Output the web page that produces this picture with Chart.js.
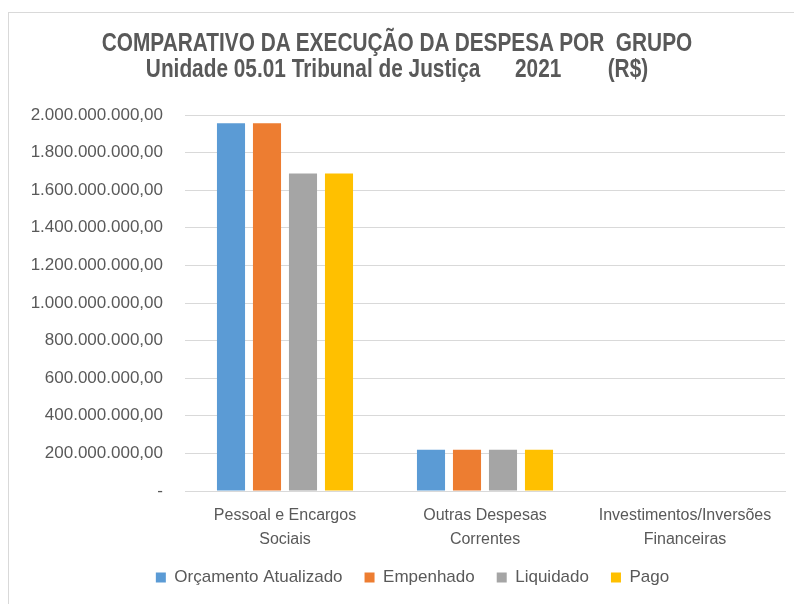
<!DOCTYPE html>
<html>
<head>
<meta charset="utf-8">
<script src="https://cdn.jsdelivr.net/npm/chart.js@4"></script>
<style>
  body { margin: 0; background: #fff; }
  #moldura { position: absolute; left: 8px; top: 12px; width: 800px; height: 600px; border: 1px solid #d9d9d9; }
  #wrap { position: absolute; left: 0; top: 0; width: 794px; height: 604px; }
  .tit { position: absolute; left: 0; width: 794px; text-align: center; white-space: pre;
         font-family: 'Liberation Sans', Arial, sans-serif; font-weight: bold; font-size: 25px;
         color: #595959; line-height: 26px; transform: scaleX(0.833); transform-origin: 397px 50%; }
</style>
</head>
<body>
<div id="moldura"></div>
<div id="wrap"><canvas id="grafico" width="794" height="604"></canvas></div>
<div class="tit" id="tit1" style="top:29px"></div>
<div class="tit" id="tit2" style="top:55px"></div>
<script>
// categorias do eixo x
const categorias = [['Pessoal e Encargos', 'Sociais'], ['Outras Despesas', 'Correntes'], ['Investimentos/Inversões', 'Financeiras']];
// valores (R$)
const orcamento = [1956000000, 220000000, 0];
const empenhado = [1956000000, 220000000, 0];
const liquidado = [1689000000, 220000000, 0];
const pago = [1689000000, 220000000, 0];
const titulo = ['COMPARATIVO DA EXECUÇÃO DA DESPESA POR  GRUPO', 'Unidade 05.01 Tribunal de Justiça      2021        (R$)'];

document.getElementById('tit1').textContent = titulo[0];
document.getElementById('tit2').textContent = titulo[1];

const cinza = '#595959';
Chart.defaults.font.family = "'Liberation Sans', Arial, sans-serif";
Chart.defaults.color = cinza;

function fmt(v) {
  if (v === 0) return '-';
  return v.toLocaleString('pt-BR', { minimumFractionDigits: 2, maximumFractionDigits: 2 });
}

// empurra a legenda um pouco para a direita, como no original
const moveLegenda = {
  id: 'moveLegenda',
  afterLayout(chart) {
    chart.legend.left += 20;
    chart.legend.right += 20;
  }
};

var ctx = document.getElementById('grafico').getContext('2d');
var grafico = new Chart(ctx, {
  type: 'bar',
  data: {
    labels: categorias,
    datasets: [
      { label: 'Orçamento Atualizado', data: orcamento, backgroundColor: '#5b9bd5' },
      { label: 'Empenhado', data: empenhado, backgroundColor: '#ed7d31' },
      { label: 'Liquidado', data: liquidado, backgroundColor: '#a5a5a5' },
      { label: 'Pago', data: pago, backgroundColor: '#ffc000' }
    ]
  },
  plugins: [moveLegenda],
  options: {
    responsive: false,
    animation: false,
    datasets: { bar: { categoryPercentage: 0.72, barPercentage: 0.78 } },
    layout: { padding: { top: 115, right: 9, bottom: 8, left: 0 } },
    plugins: {
      title: { display: false },
      legend: {
        position: 'bottom',
        labels: { boxWidth: 10, boxHeight: 10, font: { size: 17 }, padding: 22 }
      },
      tooltip: { enabled: false }
    },
    scales: {
      x: {
        grid: { display: false },
        border: { color: '#d9d9d9' },
        ticks: { font: { size: 16, lineHeight: 1.5 }, color: cinza, padding: 5 },
        afterFit: function(scale) { scale.height -= 10; }
      },
      y: {
        min: 0,
        max: 2000000000,
        ticks: { stepSize: 200000000, font: { size: 17 }, color: cinza, padding: 22, callback: fmt },
        grid: { color: '#d9d9d9', lineWidth: 1, drawTicks: false },
        border: { display: false },
        afterFit: function(scale) { scale.width = 185; }
      }
    }
  }
});
</script>
</body>
</html>
